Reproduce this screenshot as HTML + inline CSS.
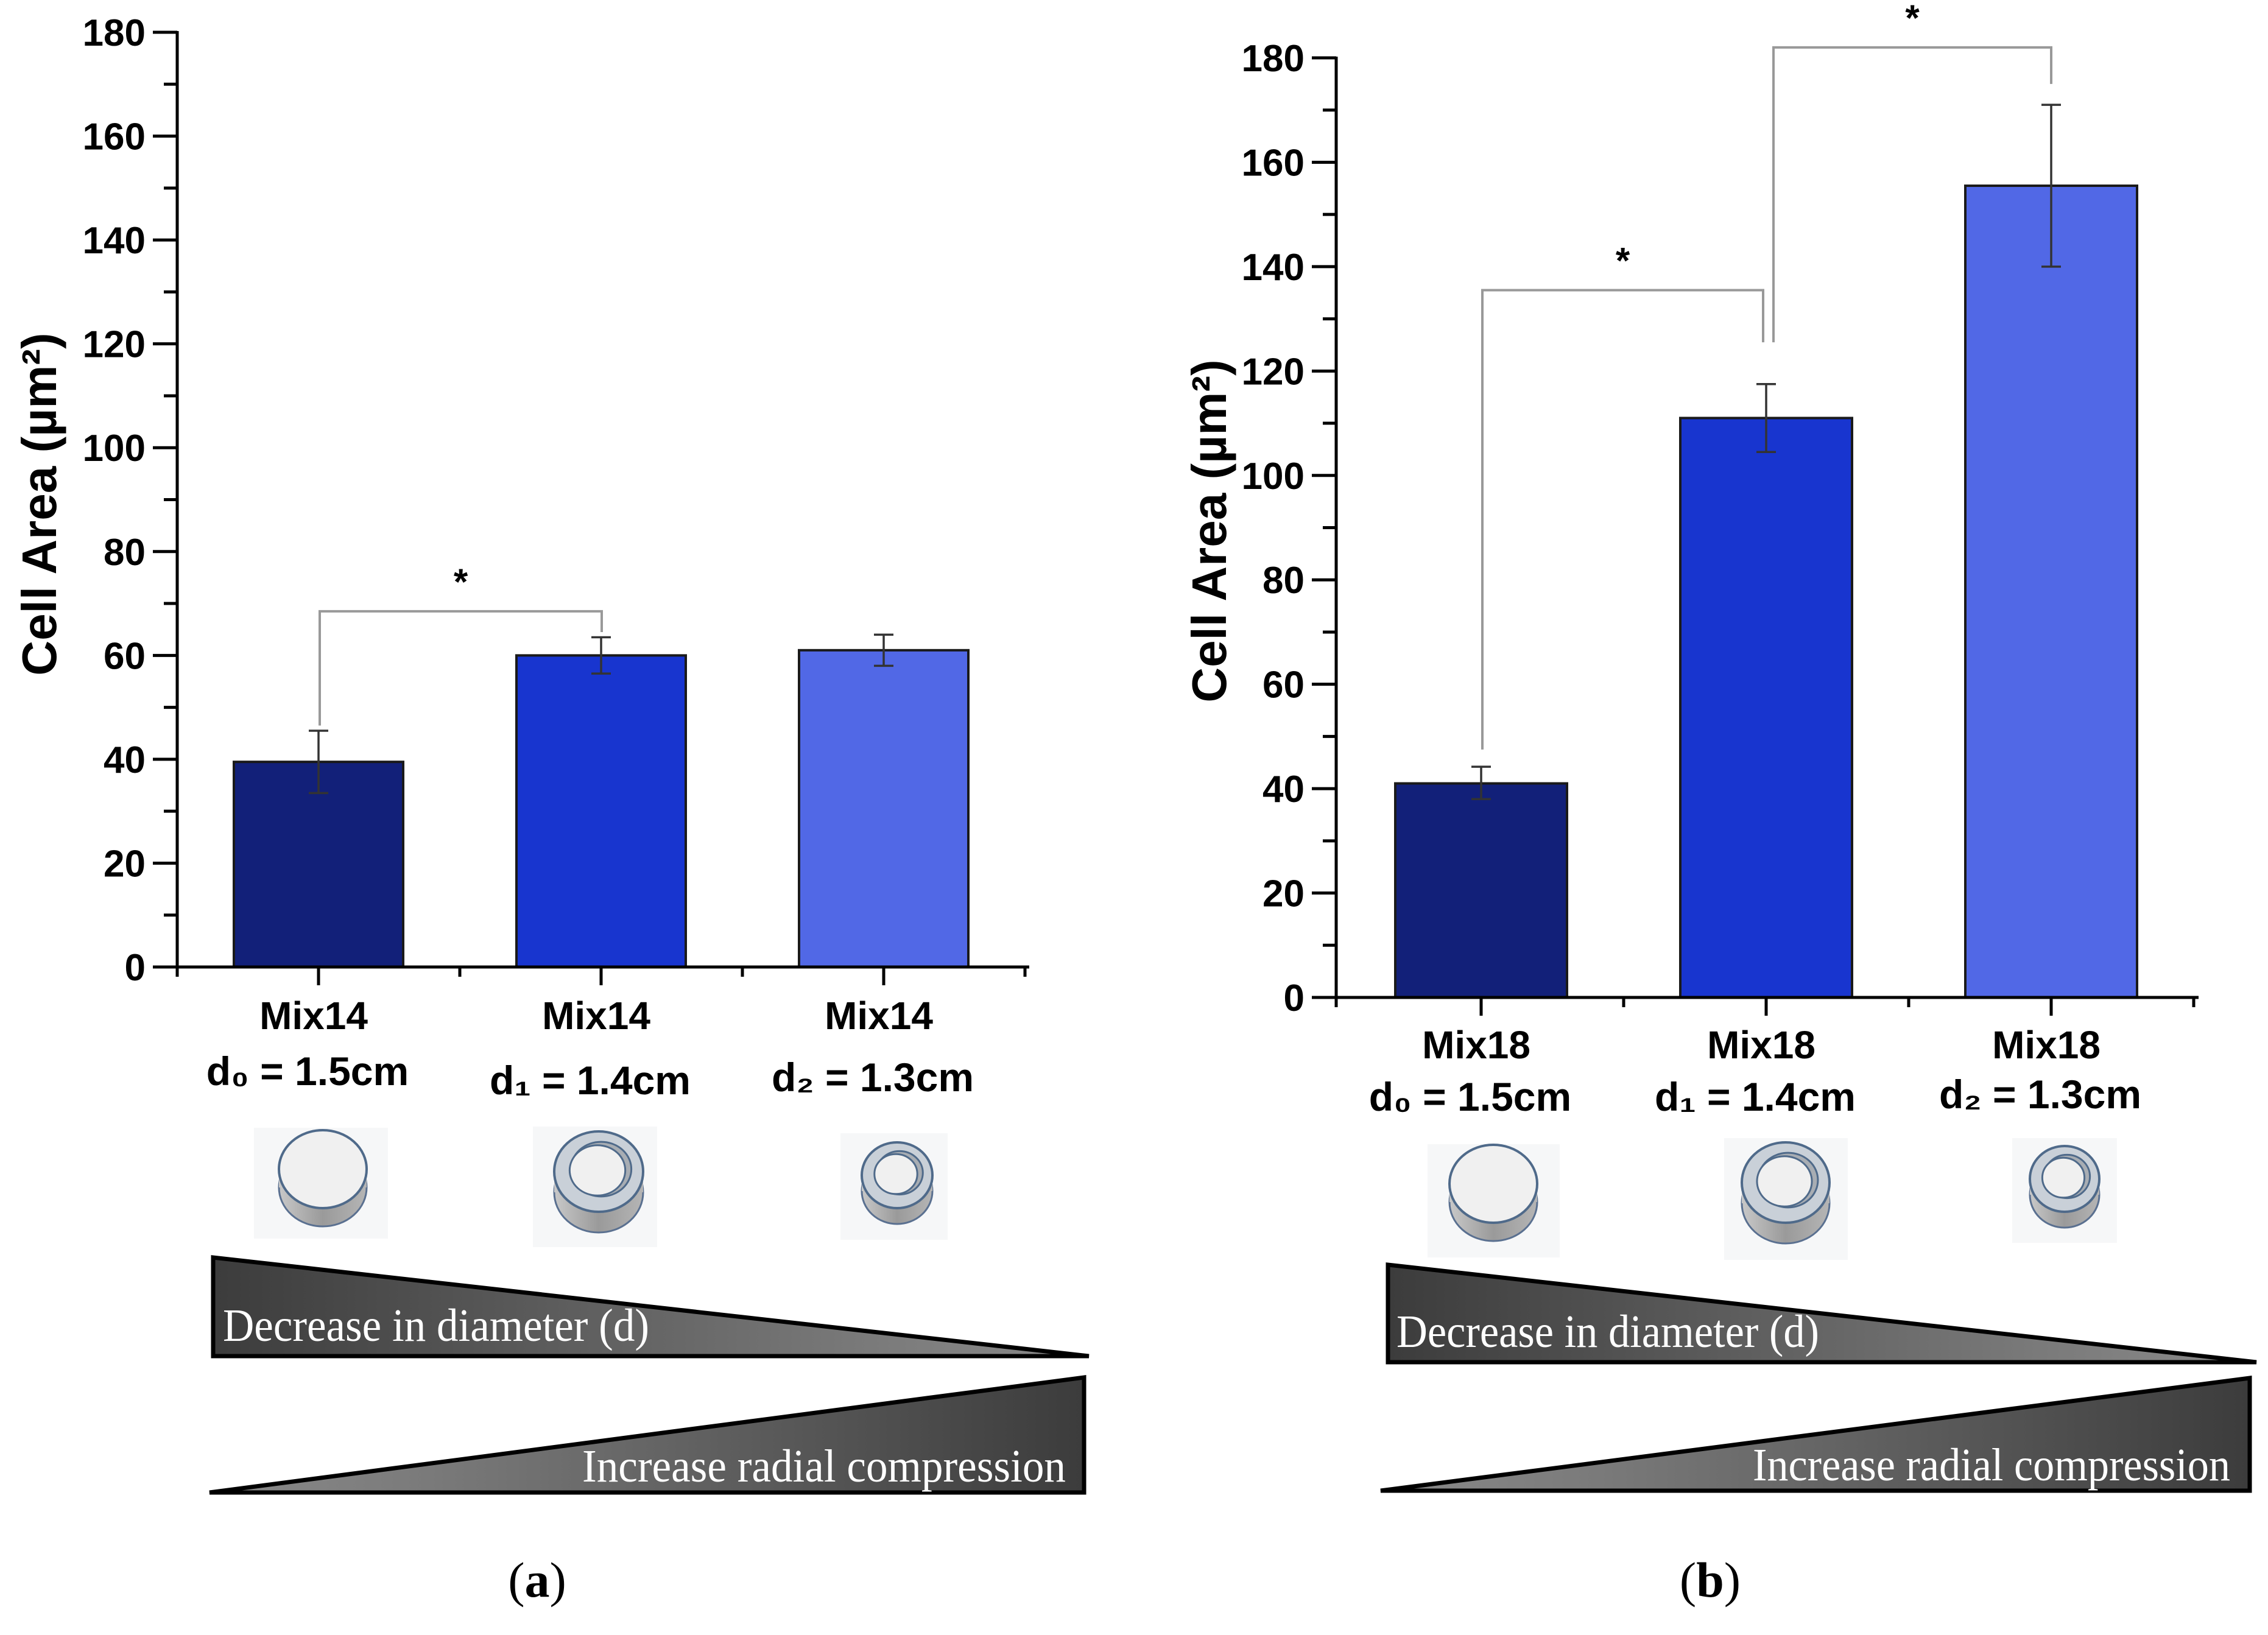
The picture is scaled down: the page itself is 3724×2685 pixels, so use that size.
<!DOCTYPE html>
<html><head><meta charset="utf-8"><style>
html,body{margin:0;padding:0;background:#fff;}
svg{display:block;}
</style></head><body>
<svg id="fig" width="3724" height="2685" viewBox="0 0 3724 2685" xmlns="http://www.w3.org/2000/svg">
<defs>
<linearGradient id="gDec" x1="0" x2="1" y1="0" y2="0"><stop offset="0" stop-color="#3c3c3c"/><stop offset="0.75" stop-color="#7a7a7a"/><stop offset="1" stop-color="#8a8a8a"/></linearGradient>
<linearGradient id="gInc" x1="0" x2="1" y1="0" y2="0"><stop offset="0" stop-color="#8a8a8a"/><stop offset="0.25" stop-color="#7a7a7a"/><stop offset="1" stop-color="#3c3c3c"/></linearGradient>
<linearGradient id="gSide" x1="0" x2="1" y1="0" y2="0"><stop offset="0" stop-color="#c8c8c8"/><stop offset="0.5" stop-color="#9a9a9a"/><stop offset="1" stop-color="#b5b5b5"/></linearGradient>
</defs>
<g id="layer"></g>
</svg>
<script>
// ---- data ----
const categoriesA = ["Mix14","Mix14","Mix14"];
const categoriesB = ["Mix18","Mix18","Mix18"];
const diamLabels = ["d\u2080 = 1.5cm","d\u2081 = 1.4cm","d\u2082 = 1.3cm"];
const valuesA = [39.5, 60, 61];
const errLowA = [33.5, 56.5, 58];
const errHighA = [45.5, 63.5, 64];
const valuesB = [41, 111, 155.5];
const errLowB = [38, 104.5, 140];
const errHighB = [44.2, 117.5, 171];
const yTicks = [0,20,40,60,80,100,120,140,160,180];
const barColors = ["#122079","#1835CF","#5168E6"];

const NS="http://www.w3.org/2000/svg";
const layer=document.getElementById('layer');
function mk(tag,attrs,parent){const e=document.createElementNS(NS,tag);for(const k in attrs)e.setAttribute(k,attrs[k]);(parent||layer).appendChild(e);return e;}

function drawChart(cfg){
  const g=mk('g',{});
  
  
  const y=v=>cfg.y0-(v/180)*(cfg.y0-cfg.y180);
  const x=i=>cfg.c0+i*cfg.step;
  cfg.values.forEach((v,i)=>{
    const r=mk('rect',{x:x(i)-cfg.bw/2,y:y(v),width:cfg.bw,height:cfg.y0-y(v),fill:barColors[i],stroke:'#1a1a1a','stroke-width':4},g);
    
    
  });
  cfg.values.forEach((v,i)=>{
    const eg=mk('g',{stroke:'#333','stroke-width':3.5},g);
    
    
    mk('line',{x1:x(i),x2:x(i),y1:y(cfg.lo[i]),y2:y(cfg.hi[i])},eg);
    mk('line',{x1:x(i)-16,x2:x(i)+16,y1:y(cfg.lo[i]),y2:y(cfg.lo[i])},eg);
    mk('line',{x1:x(i)-16,x2:x(i)+16,y1:y(cfg.hi[i]),y2:y(cfg.hi[i])},eg);
  });
  const ax=mk('g',{stroke:'#000','stroke-width':5,fill:'none'},g);
  
  
  mk('line',{x1:cfg.ax,x2:cfg.ax,y1:y(180)-2,y2:cfg.y0+16},ax);
  mk('line',{x1:cfg.ax-40,x2:cfg.xEnd,y1:cfg.y0,y2:cfg.y0},ax);
  for(let v=10;v<=170;v+=20) mk('line',{x1:cfg.ax-22,x2:cfg.ax,y1:y(v),y2:y(v)},ax);
  yTicks.forEach(v=>{
    mk('line',{x1:cfg.ax-40,x2:cfg.ax,y1:y(v),y2:y(v)},ax);
    const t=mk('text',{x:cfg.ax-52,y:y(v)+22,'text-anchor':'end','font-family':'Liberation Sans, Arial, sans-serif','font-weight':'bold','font-size':62,fill:'#000'},g);
    t.textContent=v;
    
    
  });
  for(let i=0;i<3;i++){
    mk('line',{x1:x(i),x2:x(i),y1:cfg.y0,y2:cfg.y0+30},ax);
    mk('line',{x1:x(i)+cfg.step/2,x2:x(i)+cfg.step/2,y1:cfg.y0,y2:cfg.y0+16},ax);
  }
  cfg.cats.forEach((c,i)=>{
    const t=mk('text',{x:x(i)-8,y:cfg.lab1,'text-anchor':'middle','font-family':'Liberation Sans, Arial, sans-serif','font-weight':'bold','font-size':64},g);
    t.textContent=c;
    
    
    const d=mk('text',{x:x(i)-18,y:cfg.lab2[i],'text-anchor':'middle','font-family':'Liberation Sans, DejaVu Sans, sans-serif','font-weight':'bold','font-size':66},g);
    d.textContent=diamLabels[i];
    
    
  });
  const yt=mk('text',{x:cfg.tx,y:cfg.ty,'text-anchor':'middle','font-family':'Liberation Sans, Arial, sans-serif','font-weight':'bold','font-size':80,transform:'rotate(-90 '+cfg.tx+' '+cfg.ty+')'},g);
  yt.textContent='Cell Area (\u00b5m\u00b2)';
  
  
  cfg.brackets.forEach((b,k)=>{
    const p=mk('polyline',{points:`${b.x1},${y(b.l)} ${b.x1},${y(b.top)} ${b.x2},${y(b.top)} ${b.x2},${y(b.r)}`,fill:'none',stroke:'#999','stroke-width':4},g);
    
    
    const s=mk('text',{x:(b.x1+b.x2)/2,y:y(b.top)-28,'text-anchor':'middle','font-family':'Liberation Sans, Arial, sans-serif','font-weight':'bold','font-size':60},g);
    s.textContent='*';
    
    
  });
  return {x,y};
}

const A={name:'chart-a',ax:291,y0:1588,y180:53,c0:523,step:464,bw:278,xEnd:1690,values:valuesA,lo:errLowA,hi:errHighA,cats:categoriesA,lab1:1690,lab2:[1782,1797,1792],tx:92,ty:828};
A.brackets=[{x1:525,x2:988,top:68.5,l:errHighA[0]+1,r:64.5}];
drawChart(A);
const B={name:'chart-b',ax:2194,y0:1638,y180:95,c0:2432,step:468,bw:282,xEnd:3610,values:valuesB,lo:errLowB,hi:errHighB,cats:categoriesB,lab1:1738,lab2:[1824,1824,1820],tx:2013,ty:872};
B.brackets=[{x1:2434,x2:2895,top:135.5,l:47.5,r:125.5},{x1:2912,x2:3368,top:182,l:125.5,r:175}];
drawChart(B);

function icon(name,bx,by,bw,bh,cx,cy,rx,ry,depth,hole){
  const g=mk('g',{});
  
  
  mk('rect',{x:bx,y:by,width:bw,height:bh,fill:'#f6f7f8'},g);
  mk('ellipse',{cx:cx,cy:cy+depth,rx:rx,ry:ry,fill:'url(#gSide)',stroke:'#5a7090','stroke-width':3},g);
  mk('rect',{x:cx-rx,y:cy,width:rx*2,height:depth,fill:'url(#gSide)'},g);
  mk('ellipse',{cx:cx,cy:cy,rx:rx,ry:ry,fill:hole?'#c9d0d8':'#f0f0f0',stroke:'#4f6a8a','stroke-width':4},g);
  if(hole){
    mk('ellipse',{cx:cx+4,cy:cy-4,rx:rx*hole,ry:ry*hole,fill:'#a8adb3',stroke:'#4f6a8a','stroke-width':3},g);
    mk('ellipse',{cx:cx-2,cy:cy-2,rx:rx*hole*0.92,ry:ry*hole*0.92,fill:'#f0f0f0',stroke:'#4f6a8a','stroke-width':3},g);
  }
}
icon('disc-icon-a0',417,1852,220,182,530,1920,72,64,30,0);
icon('ring-icon-a1',875,1850,204,198,983,1924,73,66,34,0.68);
icon('ring-icon-a2',1380,1861,176,175,1473,1930,58,54,26,0.66);
icon('disc-icon-b0',2344,1879,217,186,2452,1944,72,64,30,0);
icon('ring-icon-b1',2831,1869,203,200,2932,1942,72,66,34,0.68);
icon('ring-icon-b2',3304,1869,172,172,3390,1936,57,54,26,0.66);

function wedge(name,pts,fill,text,tx,ty,tlen){
  const g=mk('g',{});
  
  
  mk('polygon',{points:pts,fill:fill,stroke:'#000','stroke-width':7,'stroke-linejoin':'miter'},g);
  const t=mk('text',{x:tx,y:ty,'font-family':'Liberation Serif, Times New Roman, serif','font-size':76,fill:'#fff',textLength:tlen,lengthAdjust:'spacingAndGlyphs'},g);
  t.textContent=text;
}
wedge('decrease-diameter-wedge-a','350,2065 350,2227 1788,2227','url(#gDec)','Decrease in diameter (d)',366,2202,700);
wedge('increase-compression-wedge-a','344,2451 1780,2262 1780,2451','url(#gInc)','Increase radial compression',956,2433,794);
wedge('decrease-diameter-wedge-b','2279,2077 2279,2237 3705,2237','url(#gDec)','Decrease in diameter (d)',2293,2212,694);
wedge('increase-compression-wedge-b','2267,2448 3694,2263 3694,2448','url(#gInc)','Increase radial compression',2878,2431,784);

[['panel-label-a','(a)',882],['panel-label-b','(b)',2808]].forEach(([n,s,x])=>{
  const t=mk('text',{x:x,y:2622,'text-anchor':'middle','font-family':'Liberation Serif, Times New Roman, serif','font-size':82,fill:'#000'});
  t.innerHTML=s.replace(/([ab])/,'<tspan font-weight="bold">$1</tspan>');
  
  
});
</script>
</body></html>
